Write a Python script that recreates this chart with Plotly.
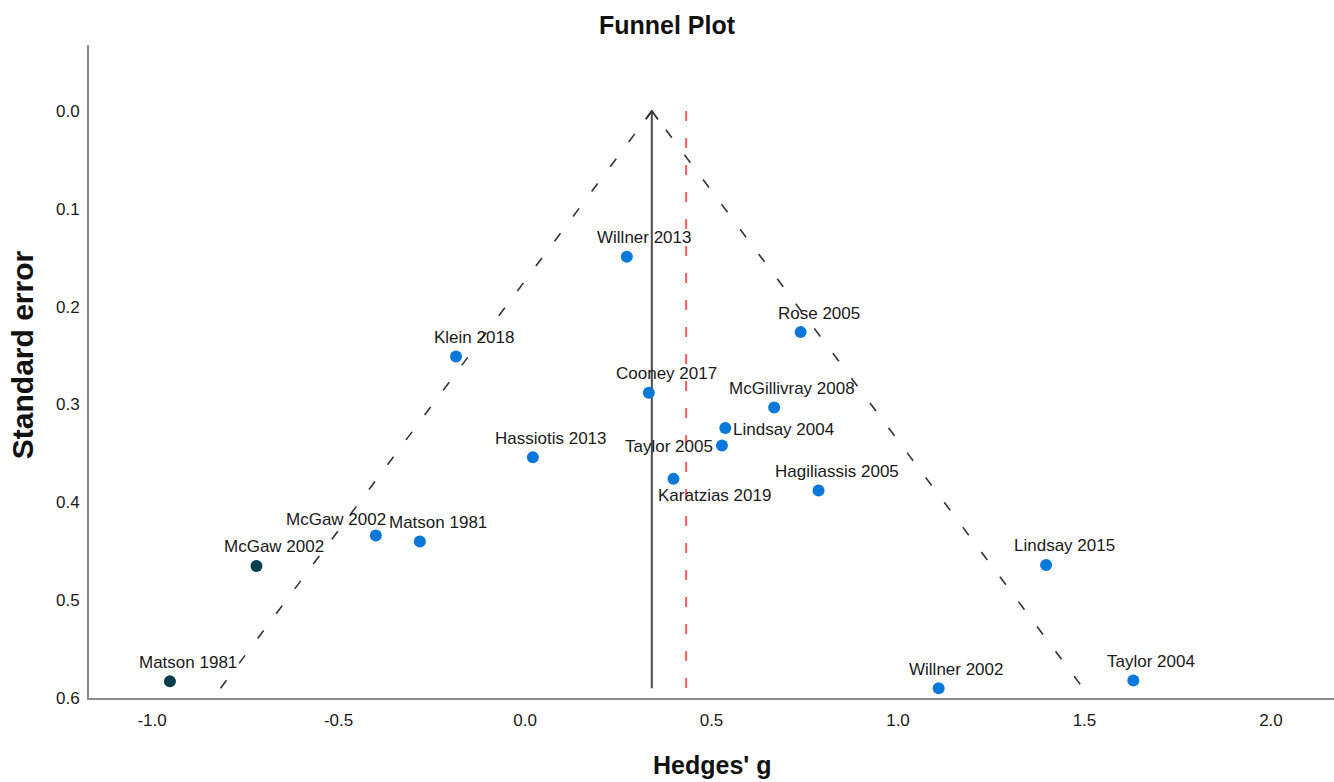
import plotly.graph_objects as go

# ---- data ----
studies = ["Willner 2013", "Klein 2018", "Rose 2005", "Cooney 2017", "McGillivray 2008",
           "Lindsay 2004", "Taylor 2005", "Hassiotis 2013", "Karatzias 2019", "Hagiliassis 2005",
           "McGaw 2002", "Matson 1981", "Lindsay 2015", "Willner 2002", "Taylor 2004"]
hedges_g = [0.273, -0.185, 0.739, 0.332, 0.668, 0.537, 0.528, 0.021, 0.398, 0.787,
            -0.400, -0.282, 1.397, 1.109, 1.631]
std_err = [0.149, 0.251, 0.226, 0.288, 0.303, 0.324, 0.342, 0.354, 0.376, 0.388,
           0.434, 0.440, 0.464, 0.590, 0.582]

imputed_labels = ["McGaw 2002", "Matson 1981"]
imputed_g = [-0.720, -0.952]
imputed_se = [0.465, 0.583]

adjusted_effect = 0.340   # solid line / funnel apex
observed_effect = 0.432   # red dashed line

x_ticks = [-1.0, -0.5, 0.0, 0.5, 1.0, 1.5, 2.0]
y_ticks = [0.0, 0.1, 0.2, 0.3, 0.4, 0.5, 0.6]

# ---- label placement (pixel offsets) ----
default_off = (18, 19, "center")
label_off = {
    "Lindsay 2004": (6, -1, "left"),
    "Taylor 2005": (-7, -1, "right"),
    "Karatzias 2019": (41, -17, "center"),
    "McGaw 2002": (-40, 16, "center"),
}

FONT = "Arial, Liberation Sans, Helvetica, sans-serif"
BLUE = "#0a78d8"
DARK = "#013f4c"

se_max = max(std_err + imputed_se)
z = 1.96

fig = go.Figure()

# funnel lines
fig.add_trace(go.Scatter(
    x=[adjusted_effect - z * se_max, adjusted_effect, adjusted_effect + z * se_max],
    y=[se_max, 0.0, se_max], mode="lines",
    line=dict(color="#333333", width=1.6, dash="10px,21px"),
    hoverinfo="skip", showlegend=False))

# observed effect (red dashed)
fig.add_trace(go.Scatter(
    x=[observed_effect, observed_effect], y=[0.0, se_max], mode="lines",
    line=dict(color="#ff5a5a", width=2, dash="10px,17px"),
    hoverinfo="skip", showlegend=False))

# adjusted effect (solid with arrow)
fig.add_trace(go.Scatter(
    x=[adjusted_effect, adjusted_effect], y=[se_max, 0.0], mode="lines",
    line=dict(color="#4a4a4a", width=2),
    hoverinfo="skip", showlegend=False))
adx, ady = 0.0165, 0.0085
fig.add_trace(go.Scatter(
    x=[adjusted_effect - adx, adjusted_effect, adjusted_effect + adx],
    y=[ady, 0.0, ady], mode="lines",
    line=dict(color="#333333", width=1.8),
    hoverinfo="skip", showlegend=False))

# observed studies
fig.add_trace(go.Scatter(
    x=hedges_g, y=std_err, mode="markers",
    marker=dict(color=BLUE, size=12),
    text=studies, showlegend=False))

# imputed studies
fig.add_trace(go.Scatter(
    x=imputed_g, y=imputed_se, mode="markers",
    marker=dict(color=DARK, size=12),
    text=imputed_labels, showlegend=False))

annotations = []
for name, gx, sy in zip(studies, hedges_g, std_err):
    xs, ys, anc = label_off.get(name, default_off)
    annotations.append(dict(x=gx, y=sy, xref="x", yref="y", text=name, showarrow=False,
                            xshift=xs, yshift=ys, xanchor=anc, yanchor="middle",
                            font=dict(family=FONT, size=17, color="#1a1a1a")))
for name, gx, sy in zip(imputed_labels, imputed_g, imputed_se):
    xs, ys, anc = default_off
    annotations.append(dict(x=gx, y=sy, xref="x", yref="y", text=name, showarrow=False,
                            xshift=xs, yshift=ys, xanchor=anc, yanchor="middle",
                            font=dict(family=FONT, size=17, color="#1a1a1a")))

# axis titles
annotations.append(dict(text="<b>Hedges' g</b>", xref="paper", yref="paper",
                        x=0.5, y=-0.1026, xanchor="center", yanchor="middle",
                        showarrow=False, font=dict(family=FONT, size=25, color="#111111")))
annotations.append(dict(text="<b>Standard error</b>", xref="paper", yref="paper",
                        x=-0.0538, y=0.525, xanchor="center", yanchor="middle", textangle=-90,
                        showarrow=False, font=dict(family=FONT, size=30, color="#111111")))

fig.update_layout(
    width=1334, height=782,
    paper_bgcolor="white", plot_bgcolor="white",
    margin=dict(l=89, r=0, t=45, b=84, autoexpand=False),
    font=dict(family=FONT, size=17, color="#1a1a1a"),
    title=dict(text="<b>Funnel Plot</b>", x=0.5, xref="container", y=1 - 25 / 782,
               yref="container", xanchor="center", yanchor="middle",
               font=dict(family=FONT, size=25, color="#111111")),
    annotations=annotations,
    xaxis=dict(range=[-1.169, 2.169], tickvals=x_ticks,
               ticktext=[f"{v:.1f}" for v in x_ticks], automargin=False,
               showgrid=False, zeroline=False, showline=True, linecolor="#8a8a8a", linewidth=2,
               ticks="", ticklabelstandoff=6,
               tickfont=dict(family=FONT, size=17, color="#1a1a1a")),
    yaxis=dict(range=[0.6, -0.0675], tickvals=y_ticks,
               ticktext=[f"{v:.1f}" for v in y_ticks], automargin=False,
               showgrid=False, zeroline=False, showline=True, linecolor="#8a8a8a", linewidth=2,
               ticks="", ticklabelstandoff=4,
               tickfont=dict(family=FONT, size=17, color="#1a1a1a")),
)

fig.write_html("out.html", config={"displayModeBar": False},
               post_script="document.body.style.margin='0px';")
